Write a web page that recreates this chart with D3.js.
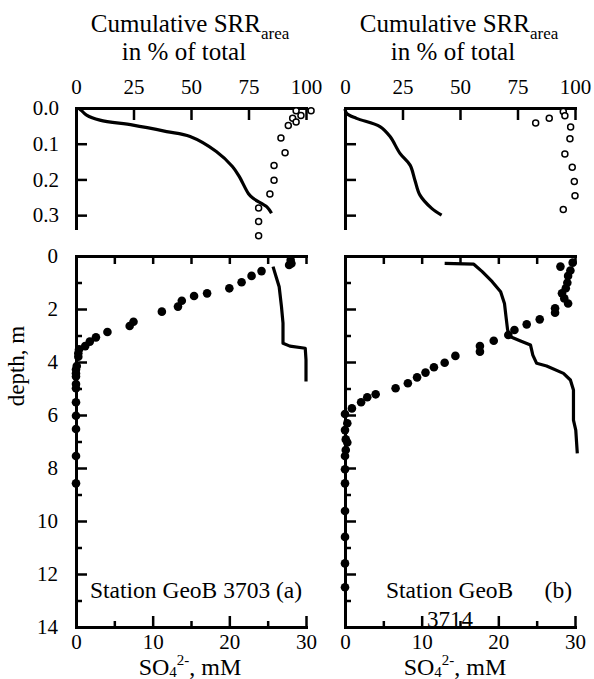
<!DOCTYPE html>
<html>
<head>
<meta charset="utf-8">
<script src="https://cdn.jsdelivr.net/npm/d3@7"></script>
<style>
  html, body { margin: 0; padding: 0; background: #fff; }
  svg { display: block; }
  svg text { font-family: "Liberation Serif", "DejaVu Serif", "Times New Roman", serif; fill: #000; }
  .axis path, .axis line { stroke: #000; }
</style>
</head>
<body>
<div id="chart"></div>
<script>
const W = 594;
const H = 679;

// --- top panels: cumulative SRR_area (%) vs depth (m)
const topTicksX = [0, 25, 50, 75, 100];
const topTicksY = [0, 0.1, 0.2, 0.3];

// [percent, depth]
const srrLineA = [[1.5,0.003],[2.5,0.008],[4.6,0.02],[10.4,0.034],[24.8,0.048],[39.4,0.066],[49.6,0.08],
  [61,0.122],[68,0.164],[71,0.192],[75,0.24],[77,0.253],[83,0.277],[85,0.295]];
const srrOpenA = [[95.7,0.008],[102.2,0.008],[97.8,0.021],[94.2,0.029],[95.7,0.039],[92.3,0.049],
  [89.1,0.084],[90.9,0.125],[86.1,0.161],[86.1,0.202],[84.3,0.241],[79.4,0.280],[79.4,0.318],[79.4,0.358]];

const srrLineB = [[0,0.003],[0.7,0.015],[5,0.029],[15.2,0.052],[19.6,0.08],[23.9,0.127],[28.3,0.16],
  [30.4,0.202],[32.6,0.244],[37.7,0.281],[42,0.3]];
const srrOpenB = [[94.9,0.010],[95.6,0.022],[88.8,0.029],[82.9,0.042],[98.1,0.053],[97.8,0.086],
  [95.6,0.129],[98.8,0.166],[99.7,0.206],[100,0.246],[94.9,0.284]];

// --- bottom panels: SO4 (mM) vs depth (m)
const botTicksMajorX = [0, 10, 20, 30];
const botTicksMinorX = [5, 15, 25];
const botTicksTopX = [5, 10, 15, 20, 25, 30];
const botTicksMajorY = [0, 2, 4, 6, 8, 10, 12, 14];
const botTicksMinorY = [1, 3, 5, 7, 9, 11, 13];

// [mM, depth]
const so4A = [[28.0,0.15],[28.1,0.28],[27.8,0.34],[24.2,0.57],[22.9,0.75],[21.6,0.99],[20.0,1.22],
  [17.1,1.41],[15.4,1.51],[13.8,1.69],[13.3,1.91],[11.2,2.10],[7.5,2.48],[7.0,2.64],[4.1,2.87],
  [2.6,3.07],[1.8,3.23],[1.2,3.40],[0.4,3.52],[0.3,3.67],[0.3,3.80],[0.1,4.15],[0,4.28],[0,4.43],
  [0,4.55],[0,4.83],[0,4.99],[0,5.52],[0,6.03],[0,6.53],[0,7.55],[0,8.58]];
const profA = [[25.7,0.40],[26.1,0.78],[26.5,1.16],[26.8,1.91],[27.0,2.53],[27.0,3.29],[27.9,3.40],
  [29.9,3.48],[30.0,3.92],[30.0,4.74]];

const so4B = [[29.7,0.25],[28.1,0.40],[29.4,0.55],[29.1,0.75],[29.0,1.01],[28.8,1.22],[28.3,1.41],
  [28.6,1.60],[29.1,1.79],[27.4,1.97],[27.4,2.14],[25.4,2.39],[23.7,2.58],[22.1,2.79],[21.3,2.98],
  [19.4,3.20],[17.6,3.40],[17.6,3.61],[14.4,3.77],[13.0,4.03],[11.6,4.20],[10.5,4.40],[9.4,4.58],
  [8.2,4.80],[6.6,4.99],[4.0,5.22],[2.9,5.33],[2.1,5.52],[0.9,5.75],[0,5.96],[0.3,6.31],[0,6.57],
  [0.1,6.92],[0.3,7.04],[0.1,7.32],[0,7.55],[0,8.05],[0,8.58],[0,9.62],[0,10.6],[0,11.6],[0,12.5]];
const profB = [[13.0,0.28],[16.8,0.31],[17.9,0.59],[19.2,0.97],[20.3,1.35],[20.8,1.79],[21.0,2.29],
  [21.2,2.77],[21.5,3.04],[22.9,3.21],[24.2,3.36],[24.5,3.74],[25.0,4.05],[26.3,4.15],[28.5,4.43],
  [29.4,4.68],[29.8,5.06],[29.8,6.19],[30.1,6.57],[30.3,7.45]];

const svg = d3.select("#chart").append("svg")
  .attr("width", W).attr("height", H);

svg.append("rect").attr("width", W).attr("height", H).attr("fill", "#fff");

// scales
const yTop = d3.scaleLinear().domain([0, 0.336]).range([108, 228]);
const yBot = d3.scaleLinear().domain([0, 14]).range([256, 627]);

const panels = [
  { x0: 76, x1: 306, line: srrLineA, open: srrOpenA, so4: so4A, prof: profA, yLabels: true },
  { x0: 345, x1: 575, line: srrLineB, open: srrOpenB, so4: so4B, prof: profB, yLabels: false }
];

function styleAxis(g) {
  g.attr("class", "axis").attr("font-family", null);
  g.select(".domain").attr("stroke-width", 3).attr("stroke-linecap", "square");
  g.selectAll(".tick line").attr("stroke-width", 2.5);
  g.selectAll("text").attr("fill", "#000");
}

panels.forEach((p, i) => {
  const xTop = d3.scaleLinear().domain([0, 100]).range([p.x0, p.x1]);
  const xBot = d3.scaleLinear().domain([0, 30]).range([p.x0, p.x1]);

  // ---------- top panel
  const gt = svg.append("g");

  gt.append("g").attr("transform", `translate(0,${yTop(0)})`)
    .call(d3.axisTop(xTop).tickValues(topTicksX).tickSizeInner(-12).tickSizeOuter(0).tickPadding(14))
    .call(styleAxis)
    .call(g => g.selectAll("text").style("font-size", "21px"));

  gt.append("g").attr("transform", `translate(${p.x0},0)`)
    .call(d3.axisLeft(yTop).tickValues(topTicksY).tickFormat(p.yLabels ? d3.format(".1f") : "")
      .tickSizeInner(-11).tickSizeOuter(0).tickPadding(17))
    .call(styleAxis)
    .call(g => g.selectAll("text").style("font-size", "21px"))
    .call(g => g.selectAll(".tick").filter(d => d === 0).select("line").remove());

  gt.append("path")
    .datum(p.line)
    .attr("fill", "none").attr("stroke", "#000").attr("stroke-width", 3.2)
    .attr("stroke-linejoin", "round")
    .attr("d", d3.line().x(d => xTop(d[0])).y(d => yTop(d[1])).curve(d3.curveCatmullRom));

  gt.selectAll("circle.open").data(p.open).enter().append("circle")
    .attr("class", "open")
    .attr("cx", d => xTop(d[0])).attr("cy", d => yTop(d[1])).attr("r", 3)
    .attr("fill", "#fff").attr("stroke", "#000").attr("stroke-width", 1.5);

  // title
  const cx = (p.x0 + p.x1) / 2 - 1;
  const t1 = gt.append("text").attr("x", cx).attr("y", 32).attr("text-anchor", "middle")
    .style("font-size", "25px");
  t1.append("tspan").text("Cumulative SRR");
  t1.append("tspan").attr("dy", 7).style("font-size", "17px").text("area");
  gt.append("text").attr("x", cx - 6).attr("y", 60).attr("text-anchor", "middle")
    .style("font-size", "25px").text("in % of total");

  // ---------- bottom panel
  const gb = svg.append("g");

  gb.append("g").attr("transform", `translate(0,${yBot(0)})`)
    .call(d3.axisTop(xBot).tickValues(botTicksTopX).tickFormat("").tickSizeInner(-8).tickSizeOuter(0))
    .call(styleAxis);

  gb.append("g").attr("transform", `translate(0,${yBot(14)})`)
    .call(d3.axisBottom(xBot).tickValues(botTicksMajorX).tickSizeInner(-11).tickSizeOuter(0).tickPadding(7))
    .call(styleAxis)
    .call(g => g.selectAll("text").style("font-size", "21px"))
    .call(g => g.selectAll(".tick").filter(d => d === 0).select("line").remove());

  gb.append("g").attr("transform", `translate(0,${yBot(14)})`)
    .call(d3.axisBottom(xBot).tickValues(botTicksMinorX).tickFormat("").tickSizeInner(-6).tickSizeOuter(0))
    .call(styleAxis)
    .call(g => g.select(".domain").remove());

  gb.append("g").attr("transform", `translate(${p.x0},0)`)
    .call(d3.axisLeft(yBot).tickValues(botTicksMajorY).tickFormat(p.yLabels ? d3.format("d") : "")
      .tickSizeInner(-11).tickSizeOuter(0).tickPadding(18))
    .call(styleAxis)
    .call(g => g.selectAll("text").style("font-size", "21px"))
    .call(g => g.selectAll(".tick").filter(d => d === 0 || d === 14).select("line").remove());

  gb.append("g").attr("transform", `translate(${p.x0},0)`)
    .call(d3.axisLeft(yBot).tickValues(botTicksMinorY).tickFormat("").tickSizeInner(-6).tickSizeOuter(0))
    .call(styleAxis)
    .call(g => g.select(".domain").remove());

  gb.append("path")
    .datum(p.prof)
    .attr("fill", "none").attr("stroke", "#000").attr("stroke-width", 3.2)
    .attr("stroke-linejoin", "round")
    .attr("d", d3.line().x(d => xBot(d[0])).y(d => yBot(d[1])));

  gb.selectAll("circle.dot").data(p.so4).enter().append("circle")
    .attr("class", "dot")
    .attr("cx", d => xBot(d[0])).attr("cy", d => yBot(d[1])).attr("r", 4.3)
    .attr("fill", "#000");

  // x label: SO4^2-, mM
  const lab = gb.append("text").attr("x", i === 0 ? 190 : 455).attr("y", 675)
    .attr("text-anchor", "middle").style("font-size", "24px");
  lab.append("tspan").text("SO");
  lab.append("tspan").attr("dy", 1.5).style("font-size", "15px").text("4");
  lab.append("tspan").attr("dy", -12).style("font-size", "15px").text("2-");
  lab.append("tspan").attr("dy", 10.5).text(", mM");
});

// station labels
svg.append("text").attr("x", 90).attr("y", 598).style("font-size", "23.5px")
  .text("Station GeoB 3703 (a)");
svg.append("text").attr("x", 386).attr("y", 598).style("font-size", "23.5px")
  .text("Station GeoB");
svg.append("text").attr("x", 572).attr("y", 598).attr("text-anchor", "end").style("font-size", "23.5px")
  .text("(b)");
svg.append("text").attr("x", 427).attr("y", 627).style("font-size", "23px")
  .text("3714");

// y axis title
svg.append("text")
  .attr("transform", "translate(24,366) rotate(-90)")
  .attr("text-anchor", "middle").style("font-size", "23px")
  .text("depth, m");
</script>
</body>
</html>
